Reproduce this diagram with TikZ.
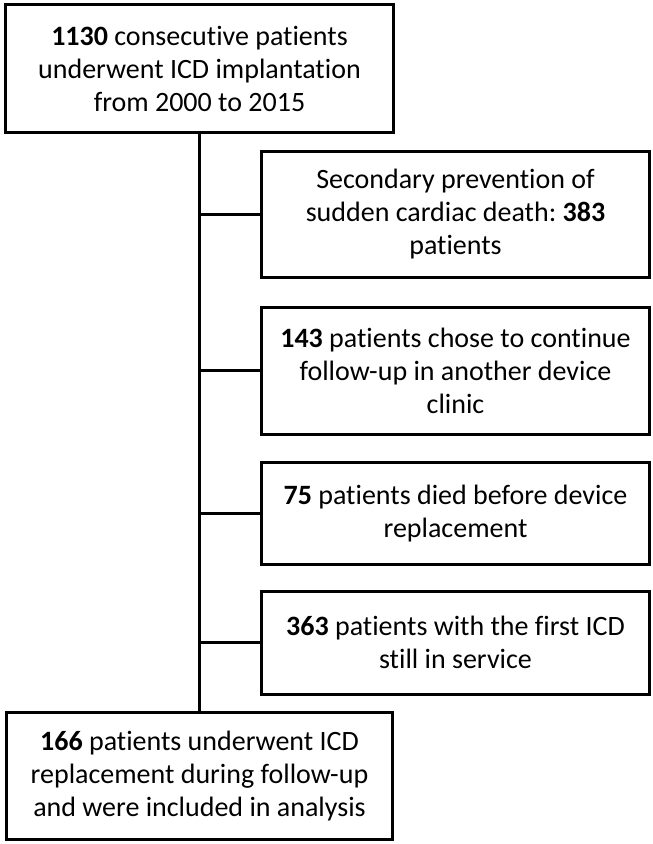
\documentclass[tikz,border=0pt]{standalone}
\usepackage{fontspec}
\setmainfont{Carlito}[RawFeature={-liga;-clig;-calt;-dlig;-rlig}]
\begin{document}
\frenchspacing
\begin{tikzpicture}[x=0.75pt,y=-0.75pt,
  box/.style={draw=black,line width=2.25pt,align=center,inner sep=0pt,
    font=\fontsize{21}{24.75}\selectfont},
  conn/.style={draw=black,line width=2.25pt}]
\useasboundingbox (0,0) rectangle (653,844);
\node[box,minimum width=388*0.75pt,minimum height=128*0.75pt] (top) at (199.5,68.5)
  {\textbf{1130} consecutive patients\\underwent ICD implantation\\from 2000 to 2015};
\node[box,minimum width=388*0.75pt,minimum height=126*0.75pt] (b1) at (455.5,214.5)
  {Secondary prevention of\\sudden cardiac death: \textbf{383}\\patients};
\node[box,minimum width=388*0.75pt,minimum height=127*0.75pt] (b2) at (455.5,370.5)
  {\textbf{143} patients chose to continue\\follow-up in another device\\clinic};
\node[box,minimum width=388*0.75pt,minimum height=102*0.75pt] (b3) at (455.5,513.5)
  {\textbf{75} patients died before device\\replacement};
\node[box,minimum width=388*0.75pt,minimum height=103*0.75pt] (b4) at (455.5,642.5)
  {\textbf{363} patients with the first ICD\\still in service};
\node[box,minimum width=386*0.75pt,minimum height=127*0.75pt] (bot) at (199.5,776)
  {\textbf{166} patients underwent ICD\\replacement during follow-up\\and were included in analysis};
\draw[conn] (top.south) -- (bot.north);
\foreach \n in {b1,b2,b3,b4}
  \draw[conn] (\n.west) -- (\n.west -| top.south);
\end{tikzpicture}
\end{document}
